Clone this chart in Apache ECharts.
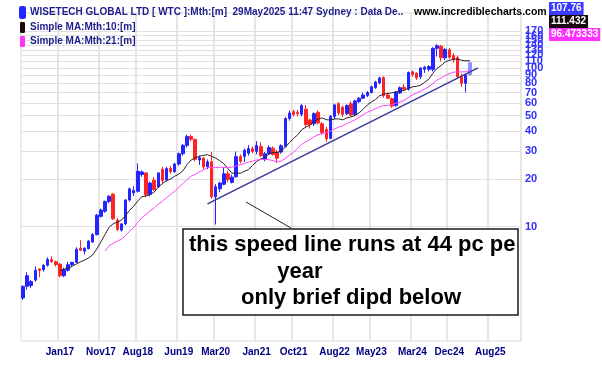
<!DOCTYPE html>
<html>
<head>
<meta charset="utf-8">
<title>WTC monthly</title>
<script src="https://cdn.jsdelivr.net/npm/echarts@6.0.0/dist/echarts.min.js"></script>
<style>
html, body { margin: 0; padding: 0; background: #fff; }
#main { width: 602px; height: 365px; }
</style>
</head>
<body>
<div id="main"></div>
<script>
// monthly bars, Apr 2016 .. May 2025
var opens = [3.55, 4.2, 4.25, 4.6, 5.4, 5.35, 5.7, 6.2, 6.0, 5.8,
    4.9, 5.3, 5.75, 5.95, 7.3, 7.0, 7.25, 8.0, 8.9, 11.6,
    12.5, 14.4, 16.0, 11.0, 9.5, 10.4, 14.7, 16.3, 16.7, 21.3,
    21.8, 16.0, 19.6, 17.8, 23.0, 19.7, 23.3, 22.2, 24.8, 28.8,
    32.5, 37.0, 35.5, 26.3, 27.0, 23.8, 25.6, 15.4, 17.3, 18.5,
    21.5, 19.0, 20.6, 27.6, 27.7, 29.0, 31.0, 29.8, 32.0, 26.6,
    28.8, 31.2, 29.5, 29.5, 32.0, 48.0, 53.0, 52.5, 51.0, 55.0,
    47.0, 44.5, 52.5, 44.5, 41.0, 36.0, 49.5, 59.5, 56.5, 51.5,
    59.5, 51.0, 61.5, 64.5, 67.0, 70.0, 75.0, 80.5, 87.0, 67.5,
    64.0, 58.0, 69.5, 75.5, 73.5, 94.5, 92.5, 88.0, 98.0, 98.0,
    98.0, 133.0, 137.0, 116.0, 130.0, 120.0, 116.0, 89.0, 80.0, 90.5];
var highs = [4.25, 5.15, 4.6, 5.6, 5.45, 5.8, 6.4, 6.5, 6.1, 5.9,
    5.5, 6.0, 6.0, 7.4, 8.2, 7.4, 8.2, 9.1, 12.0, 13.0,
    14.6, 15.8, 16.3, 11.3, 10.5, 14.9, 17.6, 18.0, 25.0, 22.6,
    22.0, 19.2, 20.5, 22.0, 23.8, 23.8, 24.2, 25.2, 29.3, 33.2,
    38.0, 38.0, 35.8, 28.0, 27.5, 26.5, 29.5, 18.5, 19.2, 23.5,
    22.5, 21.3, 29.7, 28.5, 31.0, 32.6, 32.0, 34.5, 34.0, 29.5,
    32.5, 32.0, 30.5, 33.0, 49.0, 54.0, 54.5, 54.5, 59.0, 58.5,
    48.0, 52.5, 54.0, 45.5, 42.5, 50.5, 59.5, 61.0, 58.0, 59.0,
    61.5, 63.0, 65.5, 70.0, 71.5, 77.5, 83.0, 88.0, 88.5, 70.0,
    65.0, 71.5, 76.5, 79.0, 95.0, 96.5, 94.0, 100.5, 103.0, 104.0,
    135.0, 141.0, 140.0, 133.0, 134.0, 124.0, 120.0, 92.0, 92.0, 110.0];
var lows = [3.45, 4.0, 4.1, 4.5, 4.8, 5.2, 5.6, 5.9, 5.6, 4.8,
    4.8, 5.2, 5.6, 5.9, 7.0, 6.7, 7.2, 7.9, 8.8, 11.4,
    12.2, 14.0, 11.0, 9.4, 9.3, 10.2, 14.4, 15.6, 16.4, 20.6,
    15.3, 15.5, 16.8, 17.5, 18.8, 19.2, 21.5, 21.8, 24.2, 28.0,
    31.5, 34.5, 25.8, 24.5, 23.0, 23.0, 15.0, 10.3, 16.5, 18.2,
    19.0, 18.7, 20.3, 25.0, 25.5, 28.0, 29.0, 28.5, 27.5, 25.8,
    28.3, 28.0, 25.2, 28.8, 31.5, 46.5, 49.5, 49.5, 49.5, 42.5,
    41.5, 43.0, 44.0, 38.0, 34.2, 35.5, 47.5, 50.5, 49.0, 50.5,
    49.5, 50.0, 60.0, 63.5, 65.5, 69.0, 74.0, 79.0, 65.0, 63.5,
    56.0, 57.0, 68.5, 72.0, 72.0, 88.0, 84.0, 85.0, 93.0, 95.0,
    95.0, 118.0, 110.0, 112.0, 114.0, 108.0, 86.0, 76.0, 70.0, 89.0];
var closes = [4.2, 4.9, 4.5, 5.3, 5.3, 5.7, 6.2, 6.0, 5.75, 4.9,
    5.35, 5.75, 5.95, 7.2, 7.1, 7.3, 8.1, 8.9, 11.8, 12.7,
    14.4, 15.5, 11.2, 9.6, 10.4, 14.7, 17.3, 16.9, 22.3, 22.1,
    15.9, 18.8, 17.1, 21.8, 19.5, 23.2, 22.2, 24.8, 28.8, 32.5,
    37.0, 35.5, 26.5, 27.2, 23.8, 25.6, 15.4, 17.8, 18.8, 21.5,
    19.8, 20.5, 27.6, 25.8, 30.3, 31.0, 29.8, 32.5, 28.0, 28.8,
    31.5, 28.5, 27.0, 32.3, 48.0, 52.0, 50.8, 51.5, 58.0, 44.0,
    44.0, 51.5, 45.0, 39.2, 35.8, 49.5, 58.5, 52.0, 51.0, 58.0,
    50.5, 62.0, 64.5, 67.5, 70.0, 76.0, 81.5, 86.5, 67.0, 64.5,
    57.5, 70.0, 75.0, 73.5, 93.5, 91.0, 86.5, 100.0, 101.0, 102.0,
    133.0, 138.0, 116.0, 131.0, 117.0, 112.5, 88.0, 80.0, 90.5, 107.76];

// speed line end points (bar index, price)
var trendIdx = [45, 111];
var trendVal = [13.9, 100];

var xTickIdx = [9, 19, 28, 38, 47, 57, 66, 76, 85, 95, 104, 114];
var xTickText = ['Jan17', 'Nov17', 'Aug18', 'Jun19', 'Mar20', 'Jan21', 'Oct21', 'Aug22', 'May23', 'Mar24', 'Dec24', 'Aug25'];
var yTicks = [10, 20, 30, 40, 50, 60, 70, 80, 90, 100, 110, 120, 130, 140, 150, 160, 170];

var NAME_PRICE = 'WISETECH GLOBAL LTD [ WTC ]:Mth:[m]  29May2025 11:47 Sydney : Data De..';
var NAME_MA10 = 'Simple MA:Mth:10:[m]';
var NAME_MA21 = 'Simple MA:Mth:21:[m]';
var FONT = 'Liberation Sans';

var monthNames = ['Jan', 'Feb', 'Mar', 'Apr', 'May', 'Jun', 'Jul', 'Aug', 'Sep', 'Oct', 'Nov', 'Dec'];
var categories = [];
for (var i = 0; i < 122; i++) {
    categories.push(monthNames[(3 + i) % 12] + (16 + Math.floor((3 + i) / 12)));
}

function sma(values, n) {
    var out = [];
    for (var i = 0; i < values.length; i++) {
        if (i < n - 1) { out.push(null); continue; }
        var s = 0;
        for (var j = i - n + 1; j <= i; j++) s += values[j];
        out.push(+(s / n).toFixed(3));
    }
    return out;
}

var candles = opens.map(function (o, i) {
    var item = {value: [o, closes[i], lows[i], highs[i]]};
    if (i === opens.length - 1)
        item.itemStyle = {color: '#8f8fff', borderColor: '#8f8fff'};
    return item;
});

var trendData = trendIdx.map(function (idx, k) { return [idx, trendVal[k]]; });

function showTick(index) {
    return xTickIdx.indexOf(index) >= 0;
}

function valueBox(text, top, bg) {
    return {
        text: text, left: 549, top: top, backgroundColor: bg, padding: [1, 2, 1, 2],
        textStyle: {color: '#fff', fontWeight: 'bold', fontSize: 10, lineHeight: 11, fontFamily: FONT}
    };
}

var myChart = echarts.init(document.getElementById('main'));

var option = {
    animation: false,
    backgroundColor: '#ffffff',
    textStyle: {fontFamily: FONT},
    grid: {
        left: 21, right: 81, top: 13, bottom: 24,
        show: true, borderColor: '#d9d9d9', borderWidth: 1
    },
    legend: {
        orient: 'vertical',
        left: 14, top: 1,
        itemWidth: 5, itemHeight: 11, itemGap: 3,
        icon: 'roundRect',
        selectedMode: false,
        textStyle: {color: '#1c1c8c', fontWeight: 'bold', fontSize: 10, fontFamily: FONT},
        data: [NAME_PRICE, NAME_MA10, NAME_MA21]
    },
    title: [
        {
            text: 'www.incrediblecharts.com', left: 409, top: 2,
            textStyle: {color: '#000', fontWeight: 'bold', fontSize: 10.5, fontFamily: FONT}
        },
        valueBox('107.76', 2, '#3b3bff'),
        valueBox('111.432', 15, '#1a0a12'),
        valueBox('96.473333', 28, '#ff33ff')
    ],
    xAxis: {
        type: 'category',
        data: categories,
        boundaryGap: true,
        axisLine: {show: false},
        axisTick: {show: false},
        axisLabel: {
            interval: showTick,
            formatter: function (value, index) { return xTickText[xTickIdx.indexOf(index)]; },
            color: '#000080', fontWeight: 'bold', fontSize: 10, margin: 6, fontFamily: FONT
        },
        splitLine: {show: true, interval: showTick, lineStyle: {color: '#e6e6e6', width: 2}}
    },
    yAxis: {
        type: 'log',
        logBase: 10,
        min: 1.9,
        max: 222,
        position: 'right',
        axisLine: {show: false},
        axisTick: {show: false},
        axisLabel: {show: false},
        splitLine: {show: false}
    },
    series: [
        {
            name: NAME_PRICE,
            type: 'candlestick',
            data: candles,
            barWidth: 3,
            z: 2,
            itemStyle: {
                color: '#2424ff', color0: '#ff2424',
                borderColor: '#2424ff', borderColor0: '#ff2424', borderWidth: 1
            },
            markLine: {
                silent: true,
                z: 1,
                symbol: ['none', 'none'],
                lineStyle: {color: '#e0e0e0', width: 1, type: 'solid'},
                label: {
                    position: 'end', distance: 4,
                    formatter: function (p) { return p.value; },
                    color: '#3030ff', fontWeight: 'bold', fontSize: 11, fontFamily: FONT
                },
                emphasis: {disabled: true},
                data: yTicks.map(function (v) { return {yAxis: v}; })
            }
        },
        {
            name: NAME_MA10,
            type: 'line',
            data: sma(closes, 10),
            symbol: 'none',
            z: 3,
            itemStyle: {color: '#1a0a12'},
            lineStyle: {color: '#2e1e26', width: 1}
        },
        {
            name: NAME_MA21,
            type: 'line',
            data: sma(closes, 21),
            symbol: 'none',
            z: 3,
            itemStyle: {color: '#ff33ff'},
            lineStyle: {color: '#ff44ff', width: 1}
        },
        {
            name: 'speed line',
            type: 'line',
            data: trendData,
            symbol: 'none',
            z: 4,
            lineStyle: {color: '#3a3a99', width: 1.5}
        }
    ],
    graphic: [
        {
            type: 'rect', z: 100,
            shape: {x: 183, y: 229, width: 335, height: 86},
            style: {fill: '#ffffff', stroke: '#1a1a1a', lineWidth: 1.5}
        },
        {
            type: 'line', z: 100,
            shape: {x1: 246, y1: 202, x2: 291, y2: 228},
            style: {stroke: '#222222', lineWidth: 1}
        },
        {
            type: 'text', z: 101, x: 189, y: 245,
            style: {
                text: 'this speed line runs at 44 pc pe', fill: '#000',
                fontSize: 22, fontWeight: 'bold', fontFamily: FONT, align: 'left', verticalAlign: 'middle'
            }
        },
        {
            type: 'text', z: 101, x: 300, y: 272,
            style: {
                text: 'year', fill: '#000',
                fontSize: 22, fontWeight: 'bold', fontFamily: FONT, align: 'center', verticalAlign: 'middle'
            }
        },
        {
            type: 'text', z: 101, x: 351, y: 298,
            style: {
                text: 'only brief dipd below', fill: '#000',
                fontSize: 22, fontWeight: 'bold', fontFamily: FONT, align: 'center', verticalAlign: 'middle'
            }
        }
    ]
};

myChart.setOption(option);
</script>
</body>
</html>
